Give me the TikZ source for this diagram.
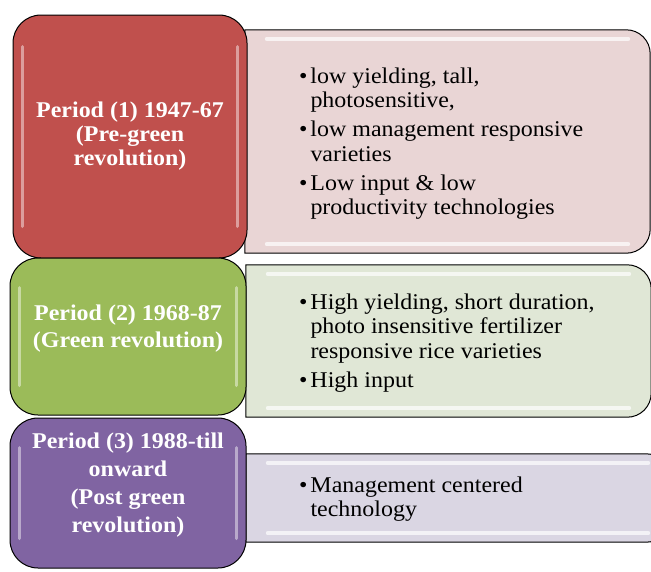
\documentclass[tikz,border=0pt]{standalone}
\usepackage{fontspec}
\setmainfont{Liberation Serif}[FakeStretch=1.065]
\definecolor{redP}{RGB}{192,80,77}
\definecolor{greenP}{RGB}{155,187,89}
\definecolor{purpleP}{RGB}{128,100,162}
\definecolor{redL}{RGB}{233,213,213}
\definecolor{greenL}{RGB}{224,231,214}
\definecolor{purpleL}{RGB}{218,214,227}
\tikzstyle{period}=[draw=black, line width=1pt, rounded corners=28pt,
    inner sep=0pt]
\tikzstyle{ptext}=[text=white, align=center,
    font=\bfseries\fontsize{22.5}{24}\selectfont]
\tikzstyle{box}=[rectangle, inner sep=0pt]
\tikzstyle{detail}=[draw=black, line width=1pt]
\tikzstyle{ltext}=[anchor=west, align=left, inner sep=0pt,
    font=\fontsize{22.5}{24.5}\selectfont]
\tikzstyle{gloss}=[white, opacity=0.45, line width=3pt, line cap=round]
\tikzstyle{band}=[white, opacity=0.7, line width=4pt, line cap=round]
\def\rr{24pt}
\def\gap{4.5pt}
\newcommand{\itembul}{\makebox[11.5pt][l]{\textbullet}}
\newcommand{\itemind}{\hspace*{11.5pt}}

\begin{document}
\begin{tikzpicture}[x=1pt, y=-1pt]
    \useasboundingbox (0,0) rectangle (651,571);
    \clip (0,0) rectangle (651,571);
    % right hand boxes
    \node (d1) [box, minimum width=405pt, minimum height=223pt] at (447.5,141.5) {};
    \node (d2) [box, minimum width=405pt, minimum height=152pt] at (448.5,341) {};
    \node (d3) [box, minimum width=424pt, minimum height=88pt] at (458,498) {};
    \draw[detail, fill=redL] (d1.north) [rounded corners=\rr] -- (d1.north east)
        -- (d1.south east) -- (d1.south) [sharp corners] -- (d1.south west)
        -- (d1.north west) -- cycle;
    \draw[detail, fill=greenL] (d2.north) [rounded corners=\rr] -- (d2.north east)
        -- (d2.south east) -- (d2.south) [sharp corners] -- (d2.south west)
        -- (d2.north west) -- cycle;
    \draw[detail, fill=purpleL] (d3.north) [rounded corners=\rr] -- (d3.north east)
        -- (d3.south east) -- (d3.south) [sharp corners] -- (d3.south west)
        -- (d3.north west) -- cycle;
    \draw[band] ([shift={(22,9)}]d1.north west) -- ([shift={(-22,9)}]d1.north east);
    \draw[band] ([shift={(22,-9)}]d1.south west) -- ([shift={(-22,-9)}]d1.south east);
    \draw[band] ([shift={(22,9)}]d2.north west) -- ([shift={(-22,9)}]d2.north east);
    \draw[band] ([shift={(22,-9)}]d2.south west) -- ([shift={(-22,-9)}]d2.south east);
    \draw[band] ([shift={(22,9)}]d3.north west) -- ([shift={(-22,9)}]d3.north east);
    \draw[band] ([shift={(22,-9)}]d3.south west) -- ([shift={(-22,-9)}]d3.south east);
    % left hand boxes
    \node (p1) [period, fill=redP, minimum width=234pt, minimum height=243pt] at (130,136.5) {};
    \node (p2) [period, fill=greenP, minimum width=236pt, minimum height=157pt] at (128,336.5) {};
    \node (p3) [period, fill=purpleP, minimum width=236pt, minimum height=150pt] at (128,493) {};
    \draw[gloss] ([shift={(10,32)}]p1.north west) -- ([shift={(10,-32)}]p1.south west);
    \draw[gloss] ([shift={(-10,32)}]p1.north east) -- ([shift={(-10,-32)}]p1.south east);
    \draw[gloss] ([shift={(10,30)}]p2.north west) -- ([shift={(10,-30)}]p2.south west);
    \draw[gloss] ([shift={(-10,30)}]p2.north east) -- ([shift={(-10,-30)}]p2.south east);
    \draw[gloss] ([shift={(10,30)}]p3.north west) -- ([shift={(10,-30)}]p3.south west);
    \draw[gloss] ([shift={(-10,30)}]p3.north east) -- ([shift={(-10,-30)}]p3.south east);
    % texts
    \path (p1.center) node (t1) [ptext] {Period (1) 1947-67\\(Pre-green\\revolution)};
    \path (p2.center)+(0,-7.5) node (t2) [ptext, font=\bfseries\fontsize{22.5}{27}\selectfont]
        {Period (2) 1968-87\\(Green revolution)};
    \path (p3.center)+(0,-8) node (t3) [ptext, font=\bfseries\fontsize{22.5}{28}\selectfont]
        {Period (3) 1988-till\\onward\\(Post green\\revolution)};
    \path (d1.west)+(54,2) node (l1) [ltext] {\itembul low yielding, tall,\\
        \itemind photosensitive,\\[\gap]
        \itembul low management responsive\\
        \itemind varieties\\[\gap]
        \itembul Low input \& low\\
        \itemind productivity technologies};
    \path (d2.west)+(53,2) node (l2) [ltext] {\itembul High yielding, short duration,\\
        \itemind photo insensitive fertilizer\\
        \itemind responsive rice varieties\\[\gap]
        \itembul High input};
    \path (d3.west)+(53,1) node (l3) [ltext] {\itembul Management centered\\
        \itemind technology};
\end{tikzpicture}
\end{document}
